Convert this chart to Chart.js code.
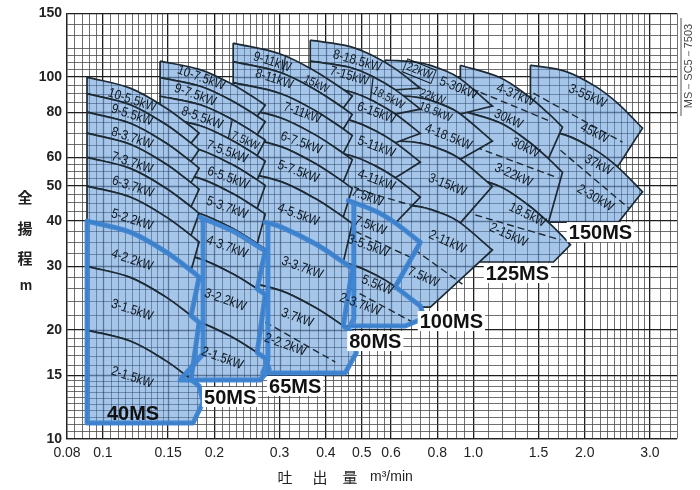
<!DOCTYPE html>
<html><head><meta charset="utf-8">
<script src="https://cdn.jsdelivr.net/npm/chart.js@4.4.1/dist/chart.umd.min.js"></script>
<style>html,body{margin:0;padding:0;background:#fff}</style>
</head><body>
<canvas id="c" width="700" height="490"></canvas>
<script>
// ---------------- axis ticks / grid ----------------
const xTickValues = [0.08,0.1,0.15,0.2,0.3,0.4,0.5,0.6,0.8,1.0,1.5,2.0,3.0];
const xTickText   = ['0.08','0.1','0.15','0.2','0.3','0.4','0.5','0.6','0.8','1.0','1.5','2.0','3.0'];
const yTickValues = [10,15,20,30,40,50,60,80,100,150];
const xGrid = [0.08,0.084,0.088,0.092,0.096,0.1,0.105,0.11,0.115,0.12,0.125,0.13,0.135,0.14,0.145,0.15,0.16,0.17,0.18,0.19,
  0.2,0.21,0.22,0.23,0.24,0.25,0.26,0.27,0.28,0.29,0.3,0.32,0.34,0.36,0.38,0.4,0.42,0.44,0.46,0.48,0.5,0.525,0.55,0.575,
  0.6,0.64,0.68,0.72,0.76,0.8,0.85,0.9,0.95,1.0,1.1,1.2,1.3,1.4,1.5,1.6,1.7,1.8,1.9,2.0,2.1,2.2,2.3,2.4,2.5,2.6,2.7,2.8,2.9,3.0,3.2,3.4,3.55];
const yGrid = [10,10.5,11,11.5,12,12.5,13,13.5,14,14.5,15,16,17,18,19,20,22,24,26,28,30,32.5,35,37.5,40,42.5,45,47.5,50,
  52.5,55,57.5,60,65,70,75,80,85,90,95,100,105,110,115,120,130,140,150];

// ---------------- pump ranges (flow m3/min, head m) ----------------
// 40MS : stages 2..10
const q40 = [0.0906,0.1184,0.1473,0.1730,0.1819];
const h40 = [
 [20,18.65,16.49,14.61,14.01],[30,27.97,24.74,21.91,21.01],[40,37.30,32.98,29.21,28.01],
 [50,46.62,41.23,36.52,35.02],[60,55.94,49.47,43.82,42.02],[70,65.27,57.72,51.12,49.02],
 [80,74.59,65.96,58.42,56.02],[90,83.92,74.21,65.73,63.03],[100,93.24,82.45,73.03,70.03]];
const edge40 = [11.07,0.1752,0.1865,12.65];   // bottom head, bottom-right flow, tip flow, tip head
// 50MS : stages 2..10
const q50 = [0.1427,0.1831,0.2234,0.2610,0.2744];
const h50 = [
 [22.14,20.97,19.10,17.33,16.73],[33.21,31.46,28.65,26.00,25.10],[44.28,41.94,38.20,34.67,33.46],
 [55.35,52.43,47.76,43.33,41.83],[66.42,62.92,57.31,52.00,50.20],[77.49,73.40,66.86,60.67,58.56],
 [88.56,83.89,76.41,69.34,66.93],[99.63,94.37,85.96,78.00,75.29],[110.7,104.86,95.51,86.67,83.66]];
const edge50 = [14.55,0.2659,0.2812,15.6];
// 65MS : stages 2..9
const q65 = [0.2248,0.3011,0.3744,0.4458,0.4714];
const h65 = [
 [27.6,25.75,23.08,20.54,19.70],[41.4,38.63,34.63,30.81,29.55],[55.2,51.50,46.17,41.08,39.40],
 [69.0,64.38,57.71,51.36,49.25],[82.8,77.25,69.25,61.63,59.10],[96.6,90.13,80.79,71.90,68.95],
 [110.4,103.00,92.34,82.17,78.80],[124.2,115.88,103.88,92.44,88.65]];
const edge65 = [15.22,0.4511,0.4833,17.3];
// 80MS : stages 2..8
const q80 = [0.3630,0.4656,0.5440,0.6161,0.7197];
const h80 = [
 [31.62,30.37,28.43,26.35,23.30],[47.43,45.55,42.64,39.53,34.95],[63.24,60.74,56.85,52.70,46.60],
 [79.05,75.92,71.07,65.88,58.25],[94.86,91.10,85.28,79.06,69.89],[110.67,106.29,99.49,92.23,81.54],
 [126.48,121.47,113.70,105.41,93.19]];
const edge80 = [20.52,0.6556,0.7378,21.59];
// 100MS : stages 2..5
const q100 = [0.5788,0.7197,0.8410,0.9231,1.1265];
const h100 = [
 [44.6,43.82,41.64,39.55,33.29],[66.9,65.72,62.46,59.32,49.93],
 [89.2,87.63,83.28,79.09,66.57],[111.5,109.54,104.10,98.87,83.21]];
const edge100 = [23.15,0.7660,null,null];
// 125MS : stages 2..4
const q125 = [0.9231,1.1839,1.4093,1.5961,1.7414];
const h125 = [
 [53.94,49.79,44.26,39.67,36.36],[80.91,74.68,66.40,59.51,54.54],[107.88,99.57,88.53,79.35,72.72]];
const edge125 = [30.84,1.6467,1.8308,34.4];
// 150MS : stages 2..3
const q150 = [1.4270,1.7747,2.1386,2.4528,2.8651];
const h150 = [[71.94,69.16,62.85,56.49,48.18],[107.91,103.74,94.28,84.73,72.27]];
const edge150 = [39.76,2.4681,null,null];

// motor-size split lines (dashed) and motor-change marks (solid)
const dash150 = [[[1.4539,90.3],[2.5298,66.1]],[[1.7199,62.8],[2.6262,43.5]]];
const dash125 = [[[0.9824,93.2],[1.6365,75.1]],[[1.0134,64.1],[1.6986,52.6]],[[1.0134,41.6],[1.7199,35.5]]];
const dash100 = [[[0.6556,34.8],[0.9347,26.8]]];
const dash80  = [[[0.4241,50.96],[0.7108,43.7]],[[0.4241,39.8],[0.6848,31.6]],[[0.4375,26.97],[0.6848,21.05]]];
const dash65  = [[[0.2744,21.05],[0.4241,16.32]]];
const marks   = [[[0.2234,76.0],[0.2180,67.5]],[[0.3116,115.3],[0.3060,102.8]],[[0.5366,99.8],[0.5274,86.0]]];

// highlighted (standard) ranges, runs of points
const hl40 = [[[0.0906,40]],[[0.0906,11.07]],[[0.1752,11.07]],[[0.1865,12.65]],[[0.1819,14.01],[0.1730,14.61]],
  [[0.1819,21.01],[0.1730,21.91]],[[0.1819,28.01],[0.1730,29.21],[0.1473,32.98],[0.1184,37.30],[0.0906,40]]];
const hl50 = [[[0.1831,41.0],[0.2234,37.6],[0.2610,34.2],[0.2744,33.1]],[[0.2610,26.00],[0.2744,25.10]],
  [[0.2610,17.33],[0.2744,16.73]],[[0.2812,15.6]],[[0.2659,14.55]],[[0.1616,14.55]],[[0.1865,17.2]],[[0.1865,40.6]],[[0.1831,41.0]]];
const hl65 = [[[0.2744,39.7],[0.3011,38.63],[0.3744,34.63],[0.4458,30.81],[0.4714,29.55]],[[0.4458,20.54],[0.4714,19.70]],
  [[0.4833,17.3]],[[0.4511,15.22]],[[0.2700,15.22]],[[0.2790,16.5]],[[0.2790,39.5]],[[0.2744,39.7]]];
const hl80 = [[[0.4600,45.6],[0.5440,42.64],[0.6161,39.53],[0.7197,34.95]],[[0.6161,26.35],[0.7197,23.30]],
  [[0.7378,21.59]],[[0.6556,20.52]],[[0.4650,20.52]],[[0.4760,21.5]],[[0.4760,44.8]],[[0.4600,45.6]]];

// motor labels: text, flow, head, rotation(deg), small
const kwLabels = [
 ['10-5.5kW',0.1199,86.4,18],['9-5.5kW',0.1199,78.5,18],['8-3.7kW',0.1199,67.8,18],['7-3.7kW',0.1199,57.9,18],
 ['6-3.7kW',0.1205,49.7,18],['5-2.2kW',0.1199,40.3,18],['4-2.2kW',0.1199,31.2,18],['3-1.5kW',0.1199,22.7,18],['2-1.5kW',0.1199,14.8,18],
 ['10-7.5kW',0.1842,99.4,20],['9-7.5kW',0.1775,89.2,20],['8-5.5kW',0.1853,77.0,20],['7-5.5kW',0.2165,62.1,20],
 ['6-5.5kW',0.2179,52.6,20],['5-3.7kW',0.2165,43.5,20],['4-3.7kW',0.2165,33.9,20],['3-2.2kW',0.2139,24.2,20],['2-1.5kW',0.2099,16.7,20],
 ['7.5kW',0.2423,66.6,24,1],
 ['9-11kW',0.2865,110.0,18],['8-11kW',0.2901,98.7,18],['15kW',0.3768,95.6,26,1],['7-11kW',0.3454,79.5,20],['6-7.5kW',0.3432,65.7,20],
 ['5-7.5kW',0.3369,54.7,20],['4-5.5kW',0.3369,41.6,20],['3-3.7kW',0.3454,29.7,20],['3.7kW',0.3348,21.6,20],['2-2.2kW',0.3106,18.2,20],
 ['8-18.5kW',0.4863,110.7,16],['7-15kW',0.4627,100.6,16],['18.5kW',0.5897,87.5,28,1],['6-15kW',0.5474,79.5,20],['5-11kW',0.5474,64.1,20],
 ['4-11kW',0.5474,51.9,20],['7.5kW',0.5176,46.6,20],['7.5kW',0.5274,38.8,20],['3-5.5kW',0.5208,34.1,20],['5.5kW',0.5508,26.6,22],['2-3.7kW',0.4955,23.5,20],
 ['22kW',0.7152,103.9,22,2],['5-30kW',0.9116,93.2,22],['22kW',0.7754,88.1,20,1],['18.5kW',0.7901,80.0,22,1],['4-18.5kW',0.8568,68.3,22],
 ['3-15kW',0.8515,50.3,22],['2-11kW',0.8515,35.0,24],['7.5kW',0.7333,28.0,24],
 ['4-37kW',1.2998,89.2,22],['30kW',1.2447,76.5,24],['30kW',1.3832,63.7,26],['3-22kW',1.2839,53.6,24],['18.5kW',1.4005,41.6,26],['2-15kW',1.2447,36.6,24],
 ['3-55kW',2.0346,88.6,24],['45kW',2.1253,70.0,26],['37kW',2.1788,57.1,28],['2-30kW',2.1386,46.3,30]
];
const modelNames = ['40MS','50MS','65MS','80MS','100MS','125MS','150MS'];
const modelLabelAt = [[0.1206,11.80],[0.2206,13.06],[0.3306,14.01],[0.5440,18.65],[0.8730,21.18],[1.3161,28.74],[2.2061,37.30]];

// ---------------- build datasets ----------------
function runs(list){
  const pts=[];
  list.forEach(r=>r.forEach((p,i)=>{pts.push({x:p[0],y:p[1]}); if(i===0||i===r.length-1) pts.push({x:p[0],y:p[1]});}));
  return pts;
}
function bandPolys(q,h,edge){
  const out=[];
  const curve=k=>q.map((v,i)=>[v,h[k][i]]);
  for(let k=h.length-1;k>=1;k--){
    const top=curve(k), low=curve(k-1).slice(0,4).reverse();
    out.push(runs([top,low,[top[0]]]));
  }
  const c2=curve(0); const r=[c2];
  if(edge[2]!==null) r.push([[edge[2],edge[3]]]);
  r.push([[edge[1],edge[0]]],[[q[0],edge[0]]],[c2[0]]);
  out.push(runs(r));
  return out;
}
const FILL='#a6c6e9', EDGE='#1d2933';
const layers=[];
function addModel(q,h,edge,dashes){
  bandPolys(q,h,edge).forEach(p=>layers.push({data:p,showLine:true,borderColor:EDGE,borderWidth:1.7,pointRadius:0,tension:0.35,polyFill:FILL}));
  dashes.forEach(d=>layers.push({data:runs([d]),showLine:true,borderColor:EDGE,borderWidth:1.4,borderDash:[7,4],pointRadius:0,tension:0}));
}
addModel(q150,h150,edge150,dash150);
addModel(q125,h125,edge125,dash125);
addModel(q100,h100,edge100,dash100);
addModel(q80,h80,edge80,dash80);
addModel(q65,h65,edge65,dash65);
addModel(q50,h50,edge50,[]);
addModel(q40,h40,edge40,[]);
marks.forEach(m=>layers.push({data:runs([m]),showLine:true,borderColor:EDGE,borderWidth:1.3,pointRadius:0,tension:0}));
[hl80,hl65,hl50,hl40].forEach(hl=>layers.push({data:runs(hl),showLine:true,borderColor:'rgba(62,132,210,0.95)',borderWidth:5,pointRadius:0,tension:0.35,borderJoinStyle:'round',borderCapStyle:'round'}));
layers.forEach((d,i)=>{d.order=layers.length-i;});

const near=(a,b)=>Math.abs(a-b)<=1e-6*Math.max(1,Math.abs(b));
const xMajor=v=>xTickValues.some(t=>near(v,t));
const yMajor=v=>yTickValues.some(t=>near(v,t));

// fill each band with the library's own line path, then show the grid through it
const polyFillPlugin={
  id:'polyFill',
  beforeDatasetDraw(chart,args){
    const ds=chart.data.datasets[args.index];
    if(!ds.polyFill) return;
    const line=args.meta.dataset, ctx=chart.ctx, a=chart.chartArea, xs=chart.scales.x, ys=chart.scales.y;
    line.updateControlPoints(a,'x');
    ctx.save(); ctx.beginPath(); ctx.rect(a.left,a.top,a.right-a.left,a.bottom-a.top); ctx.clip();
    ctx.beginPath(); line.path(ctx); ctx.closePath(); ctx.fillStyle=ds.polyFill; ctx.fill();
    ctx.clip();
    ctx.strokeStyle='rgba(28,52,88,0.55)';
    xs.ticks.forEach(t=>{const p=Math.round(xs.getPixelForValue(t.value))+0.5; ctx.lineWidth=xMajor(t.value)?1.3:0.8;
      ctx.beginPath(); ctx.moveTo(p,a.top); ctx.lineTo(p,a.bottom); ctx.stroke();});
    ys.ticks.forEach(t=>{const p=Math.round(ys.getPixelForValue(t.value))+0.5; ctx.lineWidth=yMajor(t.value)?1.3:0.8;
      ctx.beginPath(); ctx.moveTo(a.left,p); ctx.lineTo(a.right,p); ctx.stroke();});
    ctx.restore();
  }
};
const textPlugin={
  id:'texts',
  afterDatasetsDraw(chart){
    const {ctx,scales:{x,y}}=chart;
    ctx.save();
    kwLabels.forEach(l=>{
      const px=x.getPixelForValue(l[1]), py=y.getPixelForValue(l[2]);
      ctx.save(); ctx.translate(px,py); ctx.rotate(l[3]*Math.PI/180); ctx.scale(0.86,1);
      ctx.font=(l[4]?'12px':'13.5px')+' "Liberation Sans", Arial, sans-serif';
      ctx.fillStyle='#0f1820'; ctx.textAlign='center'; ctx.textBaseline='middle';
      if(l[4]===2){const w=ctx.measureText(l[0]).width+5; ctx.strokeStyle='#0f1820'; ctx.lineWidth=1; ctx.strokeRect(-w/2,-7,w,14);}
      ctx.fillText(l[0],0,0); ctx.restore();
    });
    ctx.font='bold 20px "Liberation Sans", Arial, sans-serif'; ctx.textAlign='center'; ctx.textBaseline='middle';
    modelNames.forEach((n,i)=>{
      const px=x.getPixelForValue(modelLabelAt[i][0]), py=y.getPixelForValue(modelLabelAt[i][1]);
      if(i>0){const w=ctx.measureText(n).width+4; ctx.fillStyle='#fff'; ctx.fillRect(px-w/2,py-10,w,20);}
      ctx.fillStyle='#111'; ctx.fillText(n,px,py+1);
    });
    ctx.restore();
  },
  afterDraw(chart){
    const ctx=chart.ctx; ctx.save();
    ctx.fillStyle='#222'; ctx.textAlign='center'; ctx.textBaseline='middle';
    ctx.font='bold 15px "Noto Sans CJK JP", sans-serif';
    [['全',197],['揚',228],['程',258]].forEach(c=>ctx.fillText(c[0],25,c[1]));
    ctx.font='bold 14px "Liberation Sans", sans-serif'; ctx.fillText('m',26,286);
    ctx.font='15px "Noto Sans CJK JP", sans-serif';
    [['吐',285],['出',320],['量',350]].forEach(c=>ctx.fillText(c[0],c[1],477));
    ctx.font='14px "Liberation Sans", sans-serif'; ctx.textAlign='left'; ctx.fillText('m³/min',370,477);
    ctx.strokeStyle='#555'; ctx.lineWidth=1; ctx.beginPath(); ctx.moveTo(681,18); ctx.lineTo(681,116); ctx.stroke();
    ctx.translate(689,66); ctx.rotate(-Math.PI/2); ctx.font='11px "Liberation Sans", sans-serif'; ctx.textAlign='center'; ctx.fillStyle='#444';
    ctx.fillText('MS－SC5－7503',0,0);
    ctx.restore();
  }
};

new Chart(document.getElementById('c'),{
  type:'scatter',
  data:{datasets:layers},
  options:{
    responsive:false, animation:false, devicePixelRatio:1, events:[],
    layout:{padding:{top:13,right:23,left:0,bottom:0}},
    plugins:{legend:{display:false},tooltip:{enabled:false}},
    scales:{
      x:{type:'logarithmic',min:0.08,max:3.55,
        afterBuildTicks:s=>{s.ticks=xGrid.map(v=>({value:v}));},
        afterFit:s=>{s.height=51;},
        ticks:{autoSkip:false,maxRotation:0,minRotation:0,padding:6,color:'#222',font:{family:'Liberation Sans',size:14},
          callback:v=>{const i=xTickValues.findIndex(t=>near(v,t)); return i>=0?xTickText[i]:'';}},
        grid:{drawTicks:false,color:c=>xMajor(c.tick.value)?'#1e1e1e':'#4a4a4a',lineWidth:c=>xMajor(c.tick.value)?1.3:0.8},
        border:{color:'#222',width:1.3}},
      y:{type:'logarithmic',min:10,max:150,
        afterBuildTicks:s=>{s.ticks=yGrid.map(v=>({value:v}));},
        afterFit:s=>{s.width=67;},
        ticks:{autoSkip:false,padding:5,color:'#222',font:{family:'Liberation Sans',size:14,weight:'bold'},
          callback:v=>yMajor(v)?String(v):''},
        grid:{drawTicks:false,color:c=>yMajor(c.tick.value)?'#1e1e1e':'#4a4a4a',lineWidth:c=>yMajor(c.tick.value)?1.3:0.8},
        border:{color:'#222',width:1.3}}
    }
  },
  plugins:[polyFillPlugin,textPlugin]
});
</script>
</body></html>
